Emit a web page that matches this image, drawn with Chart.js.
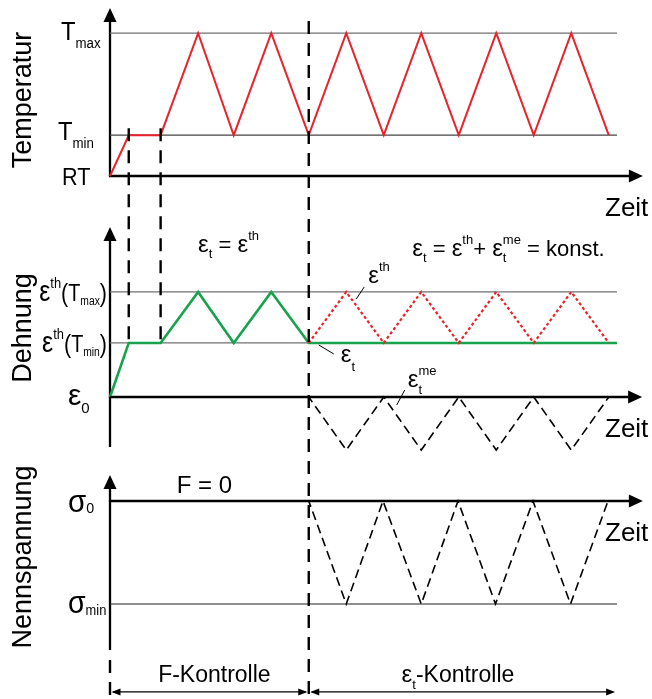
<!DOCTYPE html>
<html><head><meta charset="utf-8">
<script src="https://cdn.jsdelivr.net/npm/chart.js@4.4.1/dist/chart.umd.min.js"></script>
<style>html,body{margin:0;padding:0;background:#fff;overflow:hidden}#wrap{position:relative;width:652px;height:699px}</style>
</head><body><div id="wrap"><canvas id="c" width="652" height="699"></canvas></div>
<script>
// ---- level values (schematic units) ----
const RT = 0, T_MIN = 0.4, T_MAX = 1.4;
const EPS_0 = 0, EPS_TH_MIN = 1.06, EPS_TH_MAX = 2.06, EPS_ME_MIN = -1.04;
const SIG_0 = 0, SIG_MIN = -1;

// ---- series (time in half-cycle units) ----
const tTemperature = [0, 0.5, 1.35, 2.35, 3.3, 4.3, 5.3, 6.3, 7.3, 8.3, 9.3, 10.3, 11.3, 12.3, 13.3];
const temperature  = [0, 0.4, 0.4, 1.4, 0.4, 1.4, 0.4, 1.4, 0.4, 1.4, 0.4, 1.4, 0.4, 1.4, 0.4];
const tTotalStrain = [0, 0.5, 1.35, 2.35, 3.3, 4.3, 5.3, 13.52];
const totalStrain  = [0, 1.06, 1.06, 2.06, 1.06, 2.06, 1.06, 1.06];
const tThermalStrain = [5.3, 6.3, 7.3, 8.3, 9.3, 10.3, 11.3, 12.3, 13.3];
const thermalStrain  = [1.06, 2.06, 1.06, 2.06, 1.06, 2.06, 1.06, 2.06, 1.06];
const tMechStrain = [0, 5.3, 6.3, 7.3, 8.3, 9.3, 10.3, 11.3, 12.3, 13.3];
const mechStrain  = [0, 0, -1.04, 0, -1.04, 0, -1.04, 0, -1.04, 0];
const tStress = [0, 5.3, 6.3, 7.28, 8.3, 9.28, 10.28, 11.28, 12.28, 13.28];
const stress  = [0, 0, -1, 0, -1, 0, -1, 0, -1, 0];
const tHold = [0.5, 1.35];          // hold at T_min
const tSwitch = 5.3;                // F-Kontrolle -> eps_t-Kontrolle
const tRefEnd = 13.52;              // end of reference lines
const tDimEnd = 13.47;

// ---- axis ranges (stack three panels in one canvas) ----
const X_RANGE = {min: -2.9333, max: 14.4533};
const Y_TEMP = {min: -5.127, max: 1.7255};
const Y_STRAIN = {min: -5.9216, max: 7.7843};
const Y_STRESS = {min: -1.9223, max: 4.8641};
const AXES = {
  yT: {base: RT, bottom: RT, top: 1.647, xEnd: 14.21},
  yE: {base: EPS_0, bottom: -0.98, top: 3.333, xEnd: 14.19},
  yS: {base: SIG_0, bottom: -1.447, top: 0.252, xEnd: 14.21}
};

const FONT = '"Liberation Sans", Arial, Helvetica, sans-serif';
const RED = '#e8232b', GREEN = '#17a24c', GREY = '#707070', BLACK = '#000';

function pts(xs, ys) { return xs.map((x, i) => ({x, y: ys[i]})); }
function ref(level, axis, color, w) {
  return {data: pts([0, tRefEnd], [level, level]), yAxisID: axis, borderColor: color, borderWidth: w, order: 9, clip: false};
}

function richWidth(ctx, parts) {
  let cur = 0, maxR = 0;
  for (const p of parts) {
    ctx.font = p.s + 'px ' + FONT;
    const w = ctx.measureText(p.t).width;
    maxR = Math.max(maxR, cur + w);
    if (!p.stay) cur += w;
  }
  return Math.max(cur, maxR);
}
function rich(ctx, x, y, parts, align, sx) {
  sx = sx || 1;
  const w = richWidth(ctx, parts) * sx;
  const start = align === 'right' ? x - w : align === 'center' ? x - w / 2 : x;
  ctx.save();
  ctx.translate(start, y); ctx.scale(sx, 1);
  ctx.textAlign = 'left'; ctx.textBaseline = 'alphabetic';
  let cur = 0;
  for (const p of parts) {
    ctx.font = p.s + 'px ' + FONT;
    ctx.fillText(p.t, cur, p.dy || 0);
    if (!p.stay) cur += ctx.measureText(p.t).width;
  }
  ctx.restore();
}
function arrowUp(ctx, x, yTip, len, hw) {
  ctx.beginPath(); ctx.moveTo(x, yTip); ctx.lineTo(x - hw, yTip + len); ctx.lineTo(x + hw, yTip + len); ctx.closePath(); ctx.fill();
}
function arrowRight(ctx, xTip, y, len, hw) {
  ctx.beginPath(); ctx.moveTo(xTip, y); ctx.lineTo(xTip - len, y - hw); ctx.lineTo(xTip - len, y + hw); ctx.closePath(); ctx.fill();
}
function arrowLeft(ctx, xTip, y, len, hw) {
  ctx.beginPath(); ctx.moveTo(xTip, y); ctx.lineTo(xTip + len, y - hw); ctx.lineTo(xTip + len, y + hw); ctx.closePath(); ctx.fill();
}
function line(ctx, x1, y1, x2, y2) { ctx.beginPath(); ctx.moveTo(x1, y1); ctx.lineTo(x2, y2); ctx.stroke(); }

const annot = {
  id: 'annot',
  beforeDatasetsDraw(chart) {
    const ctx = chart.ctx, s = chart.scales, X = s.x;
    ctx.save();
    ctx.strokeStyle = BLACK; ctx.fillStyle = BLACK; ctx.lineWidth = 2.3;
    for (const id of ['yT', 'yE', 'yS']) {
      const Y = s[id], a = AXES[id];
      const x0 = X.getPixelForValue(0);
      const yb = Y.getPixelForValue(a.bottom), yt = Y.getPixelForValue(a.top), y0 = Y.getPixelForValue(a.base);
      const xe = X.getPixelForValue(a.xEnd);
      line(ctx, x0, yb, x0, yt + 10);
      arrowUp(ctx, x0, yt, 14, 6.5);
      line(ctx, x0 - 1.1, y0, xe - 10, y0);
      arrowRight(ctx, xe, y0, 14, 6.5);
    }
    ctx.restore();
  },
  afterDatasetsDraw(chart) {
    const ctx = chart.ctx, s = chart.scales, X = s.x, yT = s.yT, yE = s.yE, yS = s.yS;
    const x0 = X.getPixelForValue(0);
    ctx.save();
    ctx.fillStyle = BLACK; ctx.strokeStyle = BLACK;

    // vertical dashed separators
    ctx.lineWidth = 2.4; ctx.setLineDash([13, 9]);
    for (const t of tHold) line(ctx, X.getPixelForValue(t), yT.getPixelForValue(T_MIN) - 7, X.getPixelForValue(t), yE.getPixelForValue(EPS_TH_MIN) + 2);
    const xs = X.getPixelForValue(tSwitch);
    line(ctx, xs, yT.getPixelForValue(1.52), xs, chart.height + 5);
    line(ctx, x0, yS.getPixelForValue(-1.544), x0, chart.height + 5);
    ctx.setLineDash([]);

    // dimension arrows
    const yd = yS.getPixelForValue(-1.854);
    const xr = X.getPixelForValue(tDimEnd);
    ctx.lineWidth = 1.2;
    line(ctx, x0 + 3, yd, xs - 3, yd);
    line(ctx, xs + 3, yd, xr - 3, yd);
    arrowLeft(ctx, x0 + 1.5, yd, 9, 3.5);
    arrowRight(ctx, xs - 1.5, yd, 9, 3.5);
    arrowLeft(ctx, xs + 1.5, yd, 9, 3.5);
    arrowRight(ctx, xr, yd, 9, 3.5);

    // leader lines
    ctx.lineWidth = 1;
    const pTh = {x: X.getPixelForValue(6.3), y: yE.getPixelForValue(EPS_TH_MAX)};
    line(ctx, pTh.x + 10, pTh.y + 7, pTh.x + 18, pTh.y - 5);
    const pT = {x: xs, y: yE.getPixelForValue(EPS_TH_MIN)};
    line(ctx, pT.x + 10, pT.y + 2, pT.x + 25, pT.y + 11);
    const pMe = {x: X.getPixelForValue(7.3), y: yE.getPixelForValue(EPS_0)};
    line(ctx, pMe.x + 13, pMe.y + 8, pMe.x + 21, pMe.y - 7);

    // rotated titles
    const titles = [['Temperatur', yT.getPixelForValue(0.745)], ['Dehnung', yE.getPixelForValue(1.353)], ['Nennspannung', yS.getPixelForValue(-0.544)]];
    ctx.font = '27px ' + FONT; ctx.textAlign = 'center'; ctx.textBaseline = 'alphabetic';
    for (const [txt, yc] of titles) {
      ctx.save(); ctx.translate(x0 - 79, yc); ctx.rotate(-Math.PI / 2); ctx.fillText(txt, 0, 0); ctx.restore();
    }

    // temperature ticks
    rich(ctx, x0 - 49, yT.getPixelForValue(T_MAX) + 7, [{t: 'T', s: 25}, {t: 'max', s: 14, dy: 8}], 'left', 0.95);
    rich(ctx, x0 - 52, yT.getPixelForValue(T_MIN) + 5, [{t: 'T', s: 25}, {t: 'min', s: 14, dy: 8}], 'left', 0.95);
    rich(ctx, x0 - 48, yT.getPixelForValue(RT) + 9, [{t: 'RT', s: 24}], 'left', 0.9);

    // strain ticks
    const thLabel = (sub) => [{t: 'ε', s: 29}, {t: 'th', s: 15, dy: -13}, {t: '(', s: 25, dy: 1}, {t: 'T', s: 23}, {t: sub, s: 12, dy: 4}, {t: ')', s: 25, dy: 1}];
    rich(ctx, x0 - 3, yE.getPixelForValue(EPS_TH_MAX) + 9, thLabel('max'), 'right', 0.86);
    rich(ctx, x0 - 3, yE.getPixelForValue(EPS_TH_MIN) + 9, thLabel('min'), 'right', 0.86);
    rich(ctx, x0 - 42, yE.getPixelForValue(EPS_0) + 8, [{t: 'ε', s: 30}, {t: '0', s: 15, dy: 8}], 'left');

    // stress ticks
    rich(ctx, x0 - 42, yS.getPixelForValue(SIG_0) + 11, [{t: 'σ', s: 31}, {t: '0', s: 15, dy: 1}], 'left', 0.95);
    rich(ctx, x0 - 42, yS.getPixelForValue(SIG_MIN) + 9, [{t: 'σ', s: 31}, {t: 'min', s: 14, dy: 2}], 'left', 0.92);

    // Zeit
    for (const [Y, base] of [[yT, RT], [yE, EPS_0], [yS, SIG_0]]) {
      rich(ctx, X.getPixelForValue(13.2), Y.getPixelForValue(base) + 40, [{t: 'Zeit', s: 26}], 'left');
    }

    // formulas
    const pk1 = {x: X.getPixelForValue(2.35), y: yE.getPixelForValue(EPS_TH_MAX)};
    rich(ctx, pk1.x, pk1.y - 40, [{t: 'ε', s: 24}, {t: 't', s: 13, dy: 6}, {t: ' = ', s: 22}, {t: 'ε', s: 24}, {t: 'th', s: 13, dy: -12}], 'left');
    const pk2 = {x: X.getPixelForValue(8.3), y: yE.getPixelForValue(EPS_TH_MAX)};
    rich(ctx, pk2.x - 9, pk2.y - 36, [
      {t: 'ε', s: 24}, {t: 't', s: 13, dy: 6}, {t: ' = ', s: 22}, {t: 'ε', s: 24}, {t: 'th', s: 13, dy: -12},
      {t: '+ ', s: 22}, {t: 'ε', s: 24}, {t: 't', s: 13, dy: 6, stay: true}, {t: 'me', s: 13, dy: -12}, {t: ' = konst.', s: 22}
    ], 'left');
    rich(ctx, pTh.x + 22, pTh.y - 9, [{t: 'ε', s: 24}, {t: 'th', s: 13, dy: -12}], 'left');
    rich(ctx, pT.x + 32, pT.y + 19, [{t: 'ε', s: 24}, {t: 't', s: 13, dy: 9}], 'left');
    rich(ctx, pMe.x + 24, pMe.y - 10, [{t: 'ε', s: 24}, {t: 't', s: 13, dy: 7, stay: true}, {t: 'me', s: 13, dy: -12}], 'left');

    // F = 0 and control regions
    const mid1 = (x0 + xs) / 2, mid2 = (xs + xr) / 2;
    rich(ctx, mid1 - 5, yS.getPixelForValue(SIG_0) - 8, [{t: 'F = 0', s: 24}], 'center');
    rich(ctx, mid1 + 5, yd - 10, [{t: 'F-Kontrolle', s: 23}], 'center');
    rich(ctx, mid2 - 4, yd - 10, [{t: 'ε', s: 24}, {t: 't', s: 13, dy: 7}, {t: '-Kontrolle', s: 23}], 'center');
    ctx.restore();
  }
};

new Chart(document.getElementById('c'), {
  type: 'line',
  data: {
    datasets: [
      {label: 'εth', data: pts(tThermalStrain, thermalStrain), yAxisID: 'yE', borderColor: RED, borderWidth: 2.2, borderDash: [3, 2.5], order: 1, clip: false},
      {label: 'εme', data: pts(tMechStrain, mechStrain), yAxisID: 'yE', borderColor: BLACK, borderWidth: 1.6, borderDash: [9, 5], order: 1, clip: false},
      {label: 'σ', data: pts(tStress, stress), yAxisID: 'yS', borderColor: BLACK, borderWidth: 1.6, borderDash: [9, 5], order: 1, clip: false},
      {label: 'T', data: pts(tTemperature, temperature), yAxisID: 'yT', borderColor: RED, borderWidth: 2, order: 2, clip: false},
      {label: 'εt', data: pts(tTotalStrain, totalStrain), yAxisID: 'yE', borderColor: GREEN, borderWidth: 2.6, order: 3, clip: false},
      ref(T_MAX, 'yT', GREY, 1.3),
      ref(T_MIN, 'yT', '#444', 1.2),
      ref(EPS_TH_MAX, 'yE', GREY, 1.3),
      ref(EPS_TH_MIN, 'yE', GREY, 1.3),
      ref(SIG_MIN, 'yS', '#222', 1.1)
    ]
  },
  options: {
    responsive: false, animation: false, events: [],
    layout: {padding: 0},
    plugins: {legend: {display: false}, tooltip: {enabled: false}},
    elements: {point: {radius: 0}, line: {tension: 0, borderJoinStyle: 'miter', borderCapStyle: 'butt', fill: false}},
    scales: {
      x: {type: 'linear', min: X_RANGE.min, max: X_RANGE.max, display: false},
      yT: {axis: 'y', type: 'linear', min: Y_TEMP.min, max: Y_TEMP.max, display: false},
      yE: {axis: 'y', type: 'linear', min: Y_STRAIN.min, max: Y_STRAIN.max, display: false},
      yS: {axis: 'y', type: 'linear', min: Y_STRESS.min, max: Y_STRESS.max, display: false}
    }
  },
  plugins: [annot]
});
</script></body></html>
